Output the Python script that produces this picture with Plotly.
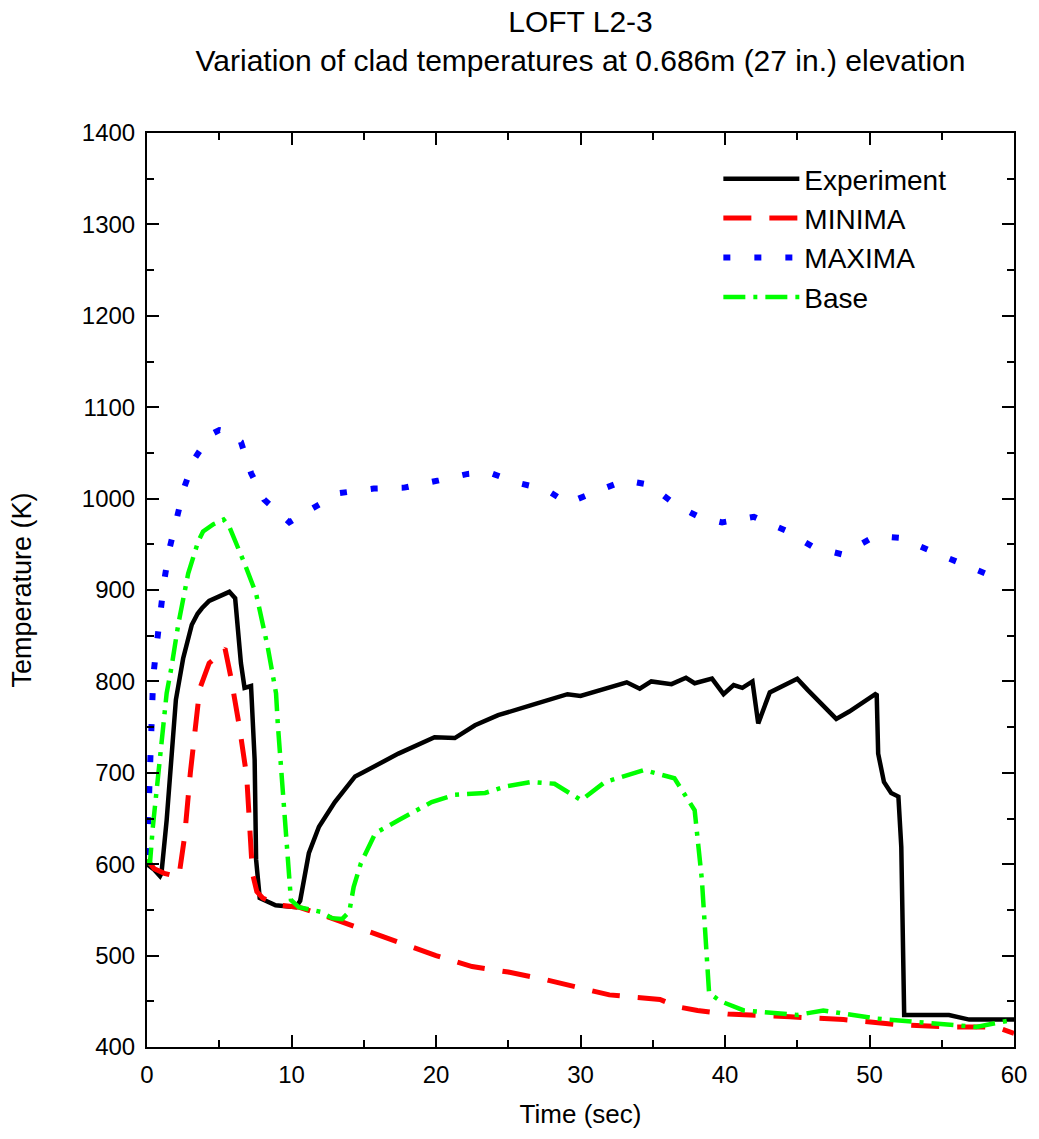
import plotly.graph_objects as go

# Experiment (black solid)
exp_t = [0, 0.5, 0.9, 1.0, 1.36, 2.0, 2.5, 3.1, 3.5, 3.8, 4.3, 5.0, 5.7, 6.1, 6.3, 6.5, 6.75, 7.2,
         7.45, 7.55, 7.8, 8.9, 10.3, 10.6, 11.2, 11.9, 13.0, 14.4, 14.9, 17.4, 19.9, 21.3, 22.7,
         24.3, 26.6, 29.1, 30.0, 33.2, 34.1, 34.9, 36.3, 37.3, 37.9, 39.1, 39.9, 40.6, 41.2, 41.9,
         42.3, 43.1, 45.0, 45.7, 47.7, 48.6, 50.4, 50.5, 50.6, 51.0, 51.5, 52.0, 52.2, 52.4, 55.5,
         56.9, 60]
exp_T = [600, 594, 587, 590, 648, 780, 825, 862, 874, 880, 888, 893, 898, 891, 850, 820, 793, 795,
         714, 605, 563, 555, 553, 560, 612, 641, 668, 696, 700, 721, 739, 738, 752,
         763, 774, 786, 784, 799, 792, 800, 797, 804, 798, 803, 786, 796, 793, 800,
         754, 788, 803, 791, 759, 767, 786, 785, 721, 690, 678, 674, 619, 435, 435,
         430, 430]

# MINIMA (red dashed)
min_t = [0, 0.5, 1.2, 2.2, 2.6, 3.0, 3.65, 4.3, 4.9, 5.4, 5.8, 6.4, 6.9, 7.1, 7.3, 7.6, 8.0, 9.2,
         10.5, 12.4, 15, 17.5, 20, 22.5, 25, 27.5, 30, 32, 35.5, 36.7, 38.1, 40.2, 44.5, 48.2,
         52.3, 55.8, 58.7, 60]
min_T = [605, 595, 590, 586, 630, 700, 792, 820, 828, 836, 805, 750, 696, 640, 590, 570, 563, 555,
         553, 543, 528, 513, 500, 488, 482, 474, 464, 457, 452, 444, 440, 436, 433, 430,
         424, 422, 422, 415]

# MAXIMA (blue dotted)
max_t = [0, 0.15, 0.43, 0.67, 0.9, 1.19, 1.54, 2.04, 2.57, 3.3, 4.4, 5.0, 5.6, 6.5, 7.2, 8.1, 9.85,
         11.3, 13.3, 15.7, 17.8, 20.2, 22.2, 23.6, 25.7, 27.6, 29.1, 31.1, 33.1, 34.8, 36.6, 38.2,
         39.8, 42.0, 44.2, 46.1, 48.1, 50.4, 52.1, 54.2, 56.0, 58.5]
max_T = [610, 680, 805, 840, 875, 910, 944, 978, 1012, 1044, 1070, 1075, 1073, 1062, 1028, 999, 974,
         988, 1006, 1011, 1012, 1020, 1027, 1029, 1017, 1010, 995, 1008, 1020, 1015, 993, 980,
         974, 980, 965, 947, 939, 959, 957, 943, 932, 915]

# Base (green dash-dot)
base_t = [0, 0.2, 0.4, 1.0, 1.36, 1.7, 2.16, 2.85, 3.54, 3.88, 4.6, 5.3, 5.7, 6.75, 7.55, 8.35, 8.93,
          9.05, 9.4, 9.73, 9.96, 10.5, 12.0, 12.8, 13.5, 14.0, 14.3, 14.8, 15.8, 17.4, 19.7, 21.3,
          23.4, 24.8, 26.6, 28.2, 29.6, 30.05, 31.7, 34.4, 36.5, 37.9, 38.4, 38.66, 38.9, 39.7,
          41.3, 45.0, 46.8, 50.5, 54.2, 57.4, 60]
base_T = [605, 600, 640, 740, 787, 816, 862, 918, 953, 964, 972, 977, 969, 929, 896, 838, 787,
          754, 678, 608, 561, 553, 548, 541, 540, 548, 575, 601, 634, 648, 668, 676,
          678, 685, 690, 688, 674, 670, 690, 703, 694, 659, 583, 510, 459, 450,
          440, 435, 440, 431, 426, 422, 430]

FONT = "Liberation Sans, Arial, sans-serif"

fig = go.Figure()
fig.add_trace(go.Scatter(x=exp_t, y=exp_T, mode="lines", name="Experiment",
                         line=dict(color="#000000", width=4.5)))
fig.add_trace(go.Scatter(x=min_t, y=min_T, mode="lines", name="MINIMA",
                         line=dict(color="#FF0000", width=5, dash="28px,18px")))
fig.add_trace(go.Scatter(x=max_t, y=max_T, mode="lines", name="MAXIMA",
                         line=dict(color="#0000FF", width=6, dash="7px,24px")))
fig.add_trace(go.Scatter(x=base_t, y=base_T, mode="lines", name="Base",
                         line=dict(color="#00FF00", width=4.5, dash="22px,8px,4px,8px")))

axis_common = dict(showline=True, linecolor="black", linewidth=2, mirror="ticks",
                   ticks="inside", tickcolor="black", tickwidth=2, ticklen=12,
                   showgrid=False, zeroline=False, ticklabelstandoff=5,
                   tickfont=dict(family=FONT, size=24, color="black"))

fig.update_xaxes(range=[0, 60], dtick=10, tick0=0,
                 minor=dict(dtick=5, ticks="inside", ticklen=7, tickcolor="black", tickwidth=2),
                 title=dict(text="Time (sec)", font=dict(family=FONT, size=26, color="black"),
                            standoff=18),
                 **axis_common)
fig.update_yaxes(range=[400, 1400], dtick=100, tick0=400,
                 minor=dict(dtick=50, ticks="inside", ticklen=7, tickcolor="black", tickwidth=2),
                 title=dict(text="Temperature (K)", font=dict(family=FONT, size=27, color="black"),
                            standoff=42),
                 **axis_common)

fig.update_layout(
    width=1039, height=1139,
    margin=dict(l=147, r=21, t=133, b=92),
    paper_bgcolor="white", plot_bgcolor="white",
    title=dict(text="LOFT L2-3<br>Variation of clad temperatures at 0.686m (27 in.) elevation",
               x=0.5, xref="paper", xanchor="center", y=0.972, yanchor="middle",
               font=dict(family=FONT, size=30, color="black")),
    legend=dict(x=0.659, y=0.977, xanchor="left", yanchor="top", bgcolor="rgba(0,0,0,0)",
                font=dict(family=FONT, size=28, color="black"), itemwidth=76,
                tracegroupgap=0),
    showlegend=True,
)

fig.write_html("out.html")
